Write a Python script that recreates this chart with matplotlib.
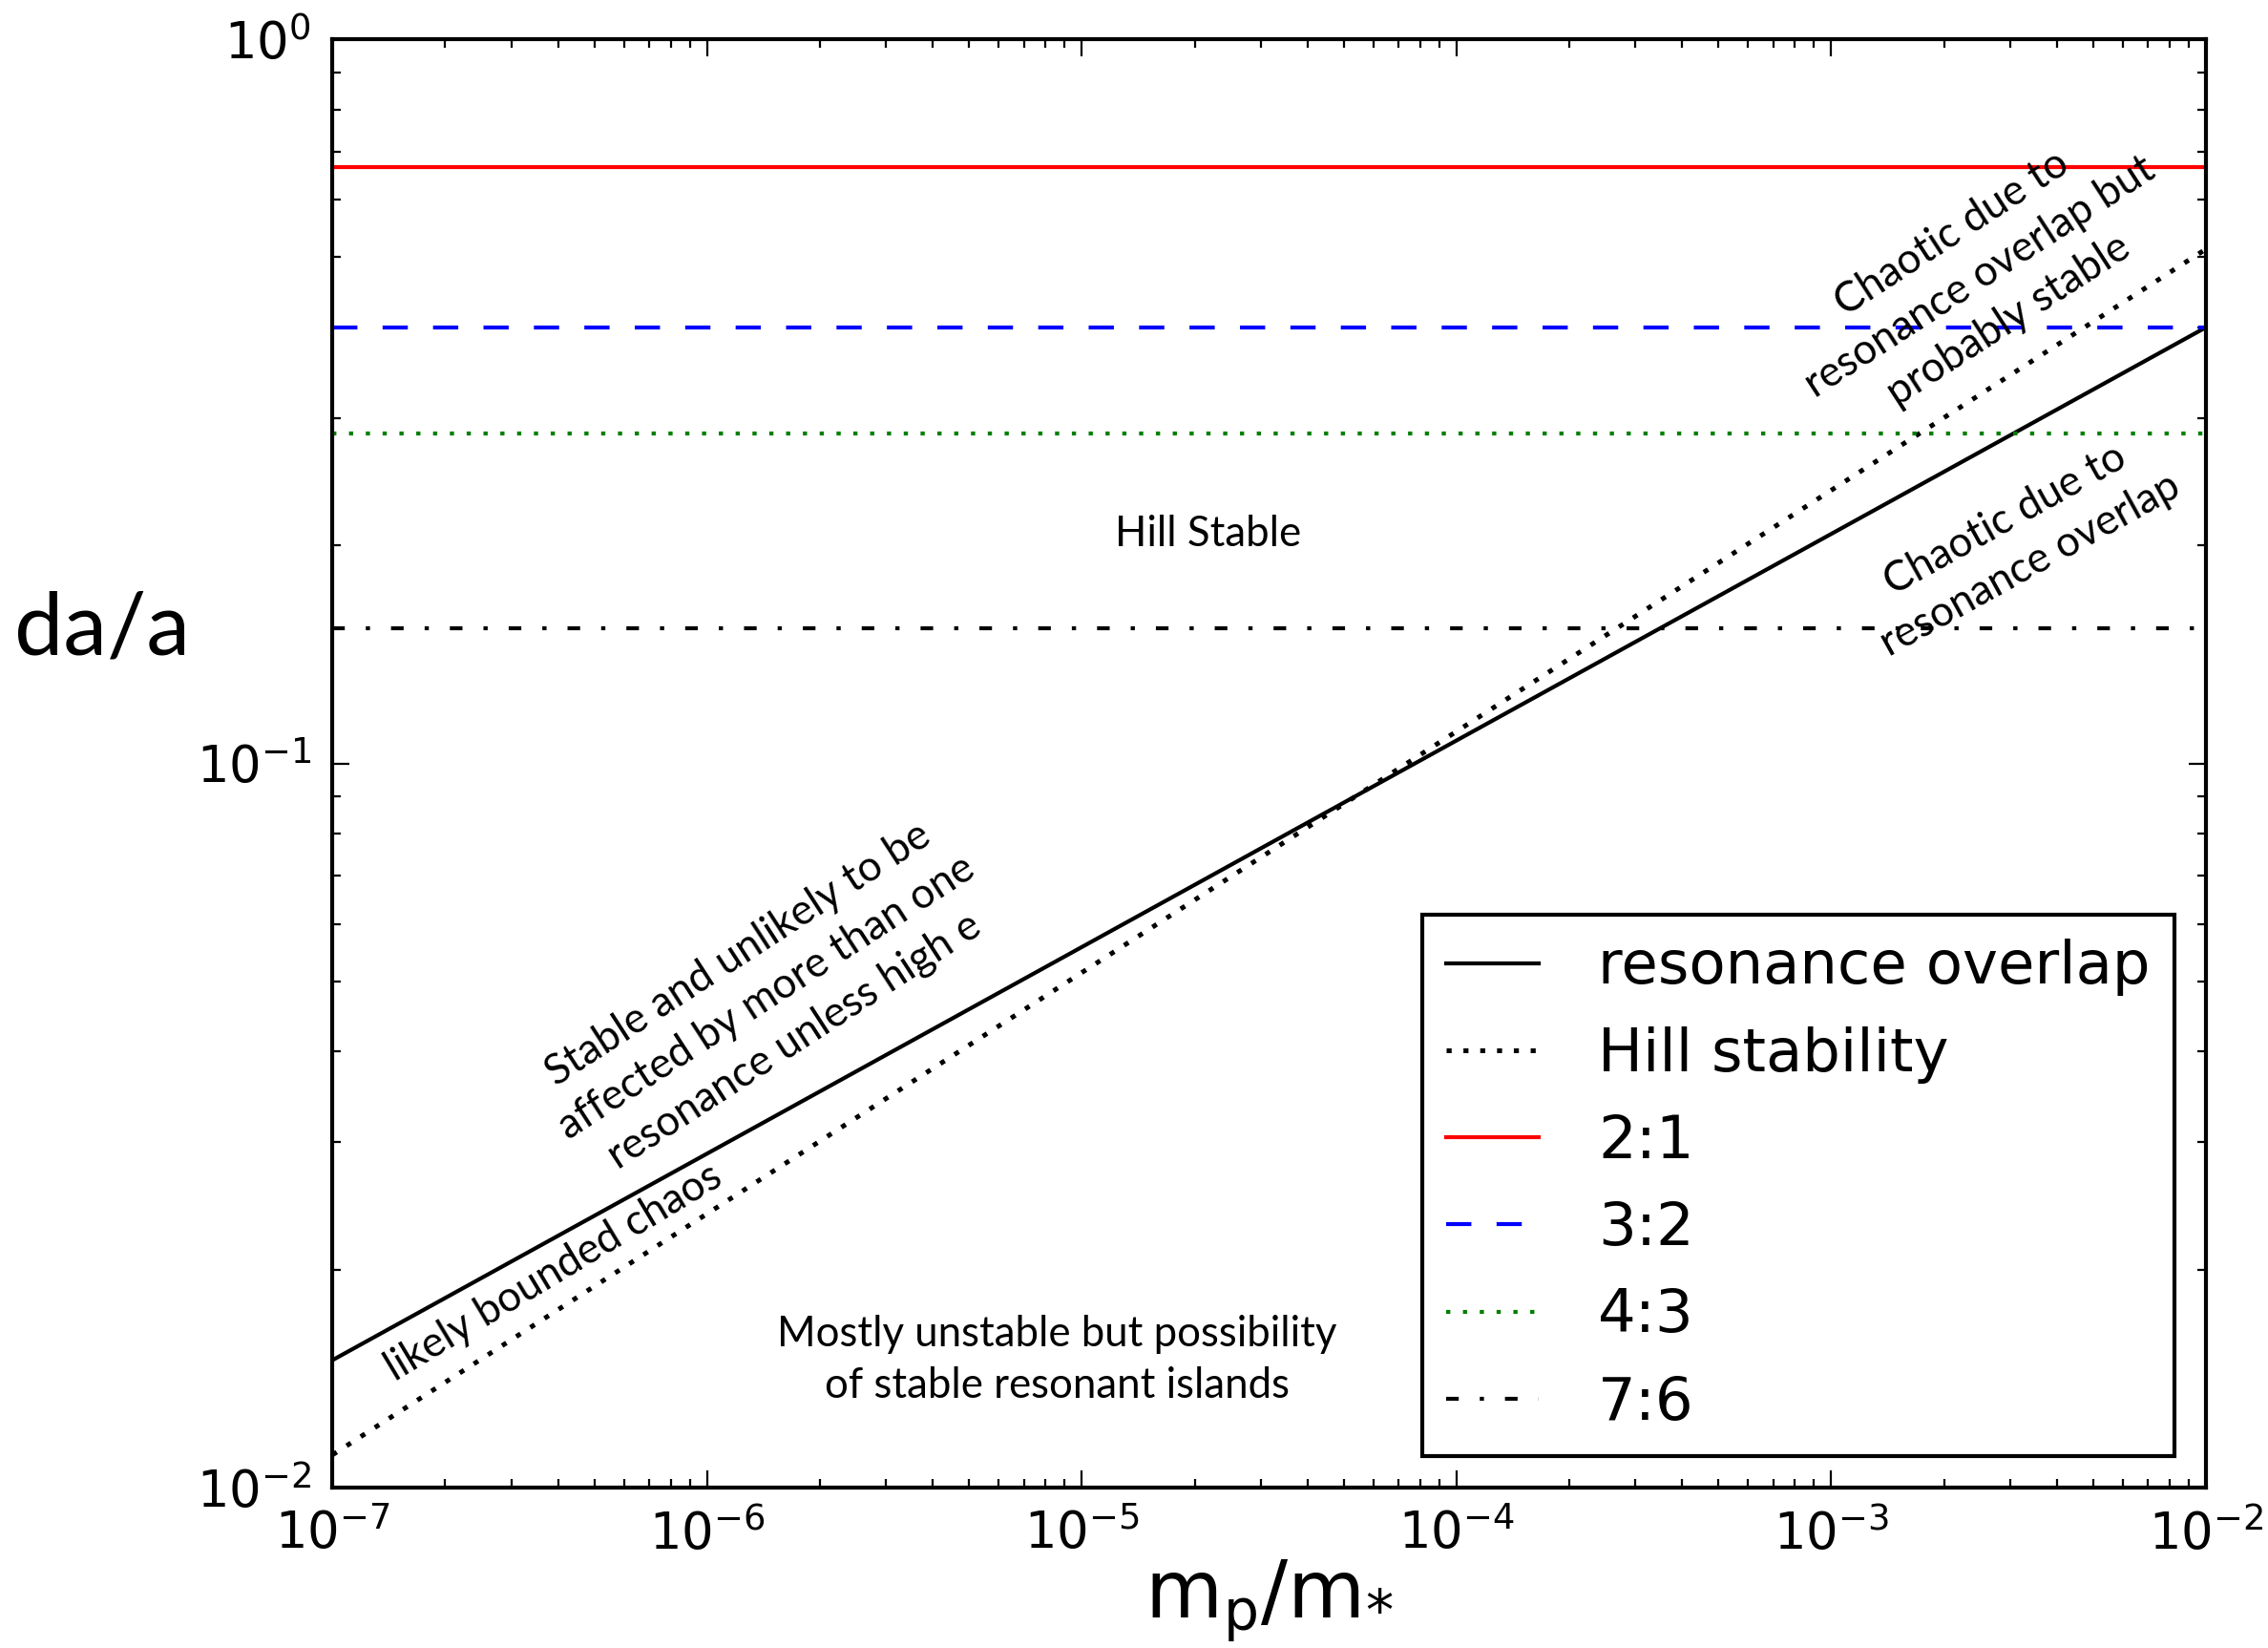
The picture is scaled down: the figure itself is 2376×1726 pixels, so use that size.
import matplotlib
matplotlib.use("Agg")
import matplotlib.pyplot as plt

mass_ratio = [1e-7, 1e-2]
overlap_da = [0.0150, 0.400]
hill_da = [0.0111, 0.513]

# resonance widths (horizontal lines)
res_names = ["2:1", "3:2", "4:3", "7:6"]
res_da = [0.6667, 0.400, 0.2857, 0.1538]
res_colors = ["red", "blue", "green", "black"]

U = 3.17  # one dash unit in points
res_dashes = [None, (6 * U, 6 * U), (U, 3 * U), (3 * U, 5 * U, U, 5 * U)]

region_text = "Lato"

plt.rcParams["mathtext.default"] = "regular"
plt.rcParams["lines.scale_dashes"] = False

fig = plt.figure(figsize=(23.76, 17.26), dpi=100)
ax = fig.add_axes([0.1466, 0.0973, 0.8260, 0.8789])

lw = 3.0
ax.plot(mass_ratio, overlap_da, "-", color="black", lw=lw, label="resonance overlap")
ax.plot(mass_ratio, hill_da, color="black", lw=3.6, dashes=(1.2 * U, 2.8 * U),
        label="Hill stability")
for name, val, c, d in zip(res_names, res_da, res_colors, res_dashes):
    if d is None:
        ax.plot(mass_ratio, [val, val], "-", color=c, lw=lw, label=name)
    else:
        ax.plot(mass_ratio, [val, val], color=c, lw=lw, dashes=d, label=name)

ax.set_xscale("log")
ax.set_yscale("log")
ax.set_xlim(1e-7, 1e-2)
ax.set_ylim(1e-2, 1e0)

for s in ax.spines.values():
    s.set_linewidth(3)
ax.tick_params(which="both", direction="in", top=True, right=True,
               labelsize=38, pad=16, width=1.6)
ax.tick_params(which="major", length=12.7)
ax.tick_params(which="minor", length=6.3)

ax.set_xlabel(r"m$_{p}$/m$_{*}$", fontsize=60, labelpad=-2)
ax.set_ylabel("da/a", fontsize=66, family=region_text, rotation=0,
              ha="center", va="center")
ax.yaxis.set_label_coords(-0.123, 0.592)

txt = dict(family=region_text, fontsize=31.5, ha="center", va="center",
           rotation_mode="anchor", linespacing=1.4)
ax.text(2.17e-5, 0.207, "Hill Stable", **txt)
ax.text(8.6e-6, 0.0150, "Mostly unstable but possibility\nof stable resonant islands", **txt)
ax.text(1.44e-6, 0.0475, "Stable and unlikely to be\naffected by more than one\nresonance unless high e",
        rotation=33, **txt)
ax.text(3.9e-7, 0.0198, "likely bounded chaos", rotation=31, **txt)
ax.text(2.5e-3, 0.47, "Chaotic due to\nresonance overlap but\nprobably stable",
        rotation=33, **txt)
ax.text(3.15e-3, 0.202, "Chaotic due to\nresonance overlap", rotation=29, **txt)

leg = ax.legend(loc="lower right", bbox_to_anchor=(0.983, 0.022), borderaxespad=0,
                fontsize=45, fancybox=False, framealpha=1, edgecolor="black",
                handlelength=1.55, handletextpad=1.0, labelspacing=0.5,
                borderpad=0.4)
leg.get_frame().set_linewidth(3)

fig.savefig("out.png", dpi=100)
